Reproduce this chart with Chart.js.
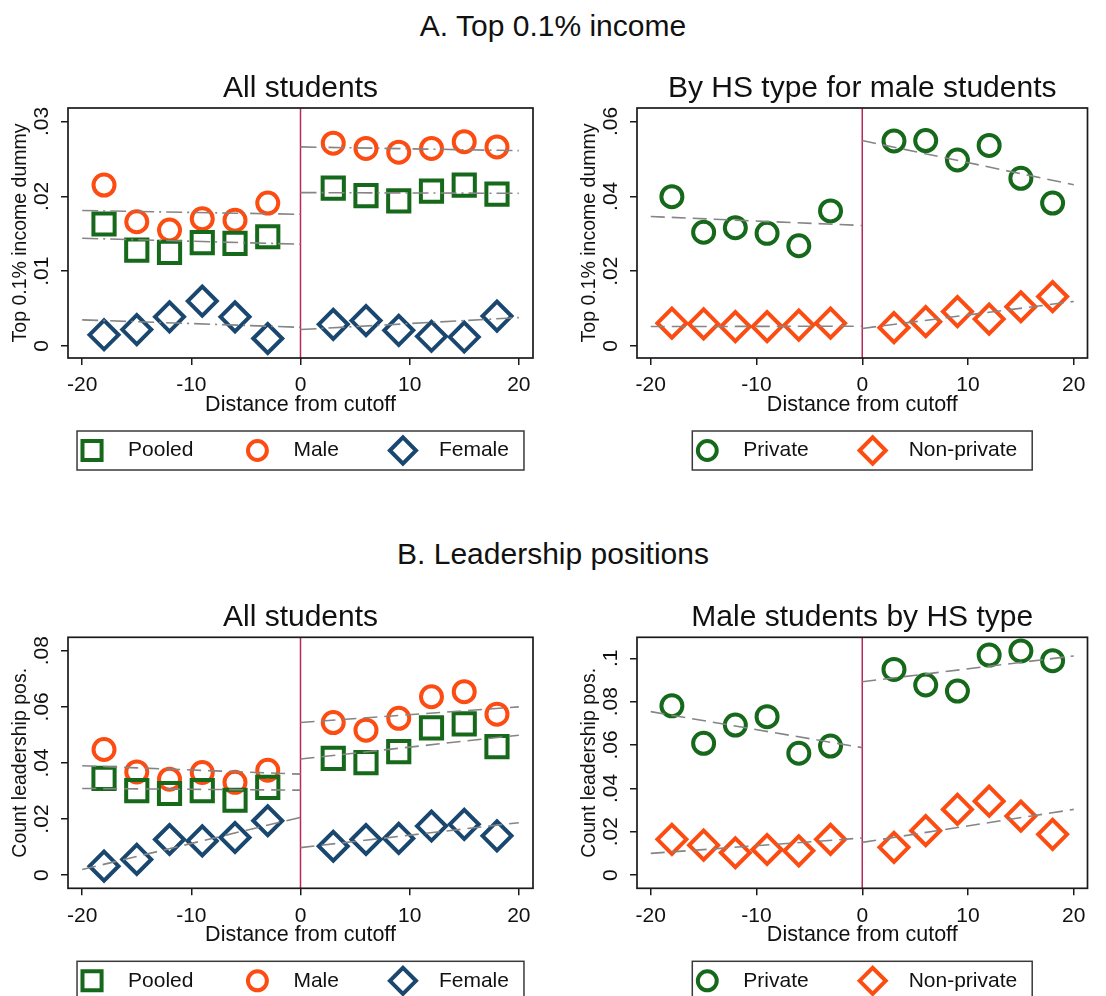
<!DOCTYPE html>
<html>
<head>
<meta charset="utf-8">
<script src="https://cdn.jsdelivr.net/npm/chart.js@4.4.1/dist/chart.umd.min.js"></script>
<style>
html,body{margin:0;padding:0;background:#ffffff;}
body{width:1106px;height:996px;position:relative;overflow:hidden;font-family:'Liberation Sans',Arial,Helvetica,sans-serif;}
.main-title{position:absolute;left:0;width:1106px;text-align:center;font-size:30px;line-height:36px;color:#111;}
canvas{position:absolute;}
</style>
</head>
<body>
<div class="main-title" style="top:8px">A. Top 0.1% income</div>
<div class="main-title" style="top:536px">B. Leadership positions</div>
<canvas id="c1" width="553" height="420" style="left:0px;top:60px"></canvas>
<canvas id="c2" width="553" height="420" style="left:553px;top:60px"></canvas>
<canvas id="c3" width="553" height="411" style="left:0px;top:585px"></canvas>
<canvas id="c4" width="553" height="411" style="left:553px;top:585px"></canvas>
<script>
// ---------------- DATA ----------------
const xBins = [-18, -15, -12, -9, -6, -3, 3, 6, 9, 12, 15, 18];
const xTicks = [-20, -10, 0, 10, 20];
const xRange = [-21.3, 21.3];
const cutoff = 0;
const fitX = [-20, 0, 0, 20]; // left segment start/end, right segment start/end

// A. Top 0.1% income — All students
const a1Pooled = [0.0163, 0.0128, 0.0125, 0.0138, 0.0137, 0.0146, 0.0211, 0.0201, 0.0194, 0.0207, 0.0215, 0.0203];
const a1Male   = [0.0215, 0.0166, 0.0155, 0.0170, 0.0168, 0.0191, 0.0271, 0.0264, 0.0259, 0.0264, 0.0273, 0.0266];
const a1Female = [0.0015, 0.0022, 0.0039, 0.0060, 0.0039, 0.0010, 0.0029, 0.0034, 0.0021, 0.0013, 0.0012, 0.0040];
const a1PooledFit = [0.0144, 0.0136, 0.0205, 0.0204];
const a1MaleFit   = [0.0181, 0.0176, 0.0266, 0.0261];
const a1FemaleFit = [0.0035, 0.0025, 0.0022, 0.0038];
const a1YTicks = [0, 0.01, 0.02, 0.03];
const a1YRange = [-0.0016, 0.0318];

// A. Top 0.1% income — By HS type for male students
const a2Private    = [0.0399, 0.0304, 0.0316, 0.0301, 0.0268, 0.0361, 0.0548, 0.0549, 0.0497, 0.0536, 0.0448, 0.0382];
const a2NonPrivate = [0.0061, 0.0059, 0.0052, 0.0052, 0.0056, 0.0061, 0.0049, 0.0065, 0.0092, 0.0072, 0.0105, 0.0132];
const a2PrivateFit    = [0.0346, 0.0322, 0.0549, 0.0431];
const a2NonPrivateFit = [0.0052, 0.0053, 0.0047, 0.0119];
const a2YTicks = [0, 0.02, 0.04, 0.06];
const a2YRange = [-0.0032, 0.0636];

// B. Leadership positions — All students
const b1Pooled = [0.0345, 0.0301, 0.0291, 0.0301, 0.0267, 0.0313, 0.0416, 0.0401, 0.0440, 0.0525, 0.0539, 0.0458];
const b1Male   = [0.0448, 0.0368, 0.0342, 0.0366, 0.0331, 0.0374, 0.0544, 0.0517, 0.0559, 0.0636, 0.0654, 0.0574];
const b1Female = [0.0032, 0.0056, 0.0127, 0.0122, 0.0134, 0.0194, 0.0103, 0.0127, 0.0131, 0.0175, 0.0181, 0.0140];
const b1PooledFit = [0.0309, 0.0303, 0.0414, 0.0499];
const b1MaleFit   = [0.0390, 0.0360, 0.0544, 0.0600];
const b1FemaleFit = [0.0020, 0.0206, 0.0098, 0.0187];
const b1YTicks = [0, 0.02, 0.04, 0.06, 0.08];
const b1YRange = [-0.0047, 0.0848];

// B. Leadership positions — Male students by HS type
const b2Private    = [0.0781, 0.0608, 0.0692, 0.0731, 0.0562, 0.0595, 0.0949, 0.0877, 0.0849, 0.1015, 0.1034, 0.0989];
const b2NonPrivate = [0.0165, 0.0138, 0.0103, 0.0118, 0.0112, 0.0165, 0.0128, 0.0205, 0.0303, 0.0341, 0.0272, 0.0188];
const b2PrivateFit    = [0.0754, 0.0588, 0.0892, 0.1011];
const b2NonPrivateFit = [0.0100, 0.0171, 0.0151, 0.0303];
const b2YTicks = [0, 0.02, 0.04, 0.06, 0.08, 0.1];
const b2YRange = [-0.0061, 0.1097];

const xTitle = 'Distance from cutoff';

// ---------------- STYLE ----------------
const FONT = "'Liberation Sans', Arial, Helvetica, sans-serif";
const TEXT = '#111111';
const GREEN = '#16691a';
const ORANGE = '#fc4c12';
const NAVY = '#1a476f';
const FIT = '#858585';
const CUT = '#b8285a';
const AXIS = '#1a1a1a';

Chart.defaults.font.family = FONT;
Chart.defaults.color = TEXT;

const MARK = {
  square:  {style: 'rect',    radius: 15},
  circle:  {style: 'circle',  radius: 10.5},
  diamond: {style: 'rectRot', radius: 14.5}
};
const MARK_BW = 4;

function fmtY(v) {
  if (Math.abs(v) < 1e-12) return '0';
  return String(Number(v.toFixed(4))).replace(/^0\./, '.').replace(/^-0\./, '-.');
}

function drawMarker(ctx, style, r, x, y) {
  ctx.beginPath();
  if (style === 'circle') {
    ctx.arc(x, y, r, 0, Math.PI * 2);
  } else if (style === 'rect') {
    const s = Math.SQRT1_2 * r;
    ctx.rect(x - s, y - s, 2 * s, 2 * s);
  } else {
    ctx.moveTo(x - r, y); ctx.lineTo(x, y - r); ctx.lineTo(x + r, y); ctx.lineTo(x, y + r); ctx.closePath();
  }
  ctx.stroke();
}

const framePlugin = {
  id: 'frame',
  afterDatasetsDraw(chart) {
    const {ctx, chartArea: ca} = chart;
    ctx.save();
    ctx.strokeStyle = AXIS;
    ctx.lineWidth = 1.7;
    ctx.strokeRect(ca.left, ca.top, ca.right - ca.left, ca.bottom - ca.top);
    ctx.restore();
  }
};

const legendPlugin = {
  id: 'stataLegend',
  afterDraw(chart, args, opts) {
    const {ctx, chartArea: ca} = chart;
    const items = opts.items || [];
    ctx.save();
    ctx.font = '21px ' + FONT;
    const widths = items.map(it => ctx.measureText(it.label).width);
    const m = 15, mt = 36, gap = 64, h = 39;
    const total = 2 * m + widths.reduce((a, w) => a + w + mt, 0) + gap * (items.length - 1);
    const left = (ca.left + ca.right) / 2 - total / 2;
    const top = ca.bottom + opts.offset;
    ctx.strokeStyle = '#3a3a3a';
    ctx.lineWidth = 1.5;
    ctx.strokeRect(left, top, total, h);
    let x = left + m;
    const cy = top + h / 2;
    items.forEach((it, i) => {
      ctx.strokeStyle = it.color;
      ctx.lineWidth = MARK_BW;
      drawMarker(ctx, MARK[it.marker].style, MARK[it.marker].radius * 0.9, x, cy);
      ctx.fillStyle = TEXT;
      ctx.textAlign = 'left';
      ctx.textBaseline = 'middle';
      ctx.fillText(it.label, x + mt, cy);
      x += mt + widths[i] + gap;
    });
    ctx.restore();
  }
};

function makePanel(id, cfg) {
  const datasets = [];
  cfg.series.forEach(s => {
    [[0, 1], [2, 3]].forEach(([a, b], k) => {
      datasets.push({
        label: s.name + (k === 0 ? ' fit (left)' : ' fit (right)'),
        data: [{x: fitX[a], y: s.fit[a]}, {x: fitX[b], y: s.fit[b]}],
        showLine: true, pointRadius: 0, pointHoverRadius: 0,
        borderColor: FIT, borderWidth: 1.6, borderDash: cfg.dash,
        fill: false, order: 0
      });
    });
  });
  cfg.series.forEach(s => {
    datasets.push({
      label: s.name,
      data: xBins.map((x, i) => ({x: x, y: s.values[i]})),
      showLine: false,
      pointStyle: MARK[s.marker].style,
      pointRadius: MARK[s.marker].radius,
      pointHoverRadius: MARK[s.marker].radius,
      pointBorderWidth: MARK_BW,
      pointBorderColor: s.color,
      pointBackgroundColor: 'rgba(0,0,0,0)',
      borderColor: s.color,
      backgroundColor: 'rgba(0,0,0,0)',
      order: 1
    });
  });
  datasets.push({
    label: 'Cutoff',
    data: [{x: cutoff, y: cfg.yRange[0]}, {x: cutoff, y: cfg.yRange[1]}],
    showLine: true, pointRadius: 0, pointHoverRadius: 0,
    borderColor: CUT, borderWidth: 1.5, order: 2
  });

  const tickFont = {family: FONT, size: 21};
  return new Chart(document.getElementById(id), {
    type: 'scatter',
    data: {datasets: datasets},
    options: {
      responsive: false,
      animation: false,
      devicePixelRatio: 1,
      events: [],
      layout: {padding: cfg.padding},
      plugins: {
        legend: {display: false},
        tooltip: {enabled: false},
        title: {
          display: true, text: cfg.title, color: TEXT, fullSize: false,
          font: {family: FONT, size: 30, weight: 'normal', lineHeight: 1.2},
          padding: cfg.titlePad
        },
        stataLegend: {items: cfg.series.map(s => ({label: s.name, marker: s.marker, color: s.color})), offset: 73}
      },
      scales: {
        x: {
          type: 'linear', min: xRange[0], max: xRange[1],
          afterBuildTicks: sc => { sc.ticks = xTicks.map(v => ({value: v})); },
          afterFit: sc => { sc.height = 60; },
          border: {display: false},
          grid: {drawOnChartArea: false, drawTicks: true, tickLength: 7, color: AXIS, lineWidth: 1.5},
          ticks: {font: tickFont, color: TEXT, padding: 8, maxRotation: 0, autoSkip: false, callback: v => String(v)},
          title: {display: true, text: xTitle, color: TEXT, font: {family: FONT, size: 21.5}, padding: {top: 0, bottom: 0}}
        },
        y: {
          type: 'linear', min: cfg.yRange[0], max: cfg.yRange[1],
          afterBuildTicks: sc => { sc.ticks = cfg.yTicks.map(v => ({value: v})); },
          afterFit: sc => { sc.width = 68; },
          border: {display: false},
          grid: {drawOnChartArea: false, drawTicks: true, tickLength: 7, color: AXIS, lineWidth: 1.5},
          ticks: {font: tickFont, color: TEXT, padding: 4, minRotation: 90, maxRotation: 90, crossAlign: 'center', autoSkip: false, callback: v => fmtY(v)},
          title: {display: true, text: cfg.yTitle, color: TEXT, font: {family: FONT, size: 19.5}, padding: {top: 9.3, bottom: 0}}
        }
      }
    },
    plugins: [framePlugin, legendPlugin]
  });
}

makePanel('c1', {
  title: 'All students', yTitle: 'Top 0.1% income dummy',
  yTicks: a1YTicks, yRange: a1YRange, dash: [16, 5, 2, 5],
  padding: {left: 0, right: 20, top: 0, bottom: 62}, titlePad: {top: 10.5, bottom: 1.5},
  series: [
    {name: 'Pooled', values: a1Pooled, fit: a1PooledFit, marker: 'square', color: GREEN},
    {name: 'Male', values: a1Male, fit: a1MaleFit, marker: 'circle', color: ORANGE},
    {name: 'Female', values: a1Female, fit: a1FemaleFit, marker: 'diamond', color: NAVY}
  ]
});
makePanel('c2', {
  title: 'By HS type for male students', yTitle: 'Top 0.1% income dummy',
  yTicks: a2YTicks, yRange: a2YRange, dash: [14, 7],
  padding: {left: 16, right: 4, top: 0, bottom: 62}, titlePad: {top: 10.5, bottom: 1.5},
  series: [
    {name: 'Private', values: a2Private, fit: a2PrivateFit, marker: 'circle', color: GREEN},
    {name: 'Non-private', values: a2NonPrivate, fit: a2NonPrivateFit, marker: 'diamond', color: ORANGE}
  ]
});
makePanel('c3', {
  title: 'All students', yTitle: 'Count leadership pos.',
  yTicks: b1YTicks, yRange: b1YRange, dash: [14, 7],
  padding: {left: 0, right: 20, top: 0, bottom: 47.7}, titlePad: {top: 14.8, bottom: 1.5},
  series: [
    {name: 'Pooled', values: b1Pooled, fit: b1PooledFit, marker: 'square', color: GREEN},
    {name: 'Male', values: b1Male, fit: b1MaleFit, marker: 'circle', color: ORANGE},
    {name: 'Female', values: b1Female, fit: b1FemaleFit, marker: 'diamond', color: NAVY}
  ]
});
makePanel('c4', {
  title: 'Male students by HS type', yTitle: 'Count leadership pos.',
  yTicks: b2YTicks, yRange: b2YRange, dash: [14, 7],
  padding: {left: 16, right: 4, top: 0, bottom: 47.7}, titlePad: {top: 14.8, bottom: 1.5},
  series: [
    {name: 'Private', values: b2Private, fit: b2PrivateFit, marker: 'circle', color: GREEN},
    {name: 'Non-private', values: b2NonPrivate, fit: b2NonPrivateFit, marker: 'diamond', color: ORANGE}
  ]
});
</script>
</body>
</html>
